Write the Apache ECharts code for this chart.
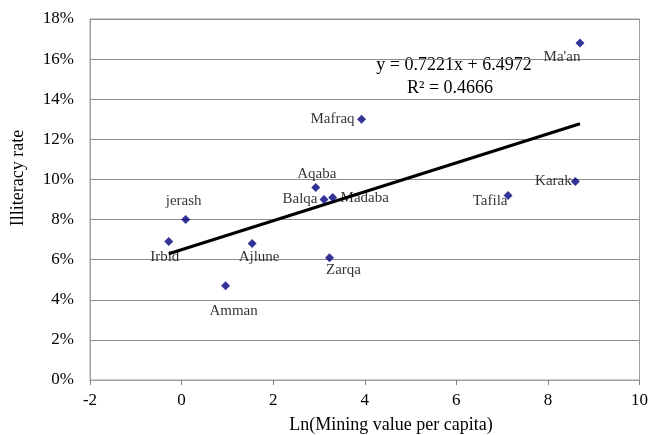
<!DOCTYPE html>
<html>
<head>
<meta charset="utf-8">
<script src="https://cdn.jsdelivr.net/npm/echarts@6/dist/echarts.min.js"></script>
<style>
  html, body { margin: 0; padding: 0; background: #fff; }
  #chart { width: 651px; height: 435px; }
</style>
</head>
<body>
<div id="chart"></div>
<script>
// Governorates with log mining value per capita and illiteracy rate (%)
const governorates = ["Ma'an", "Karak", "Tafila", "jerash", "Irbid", "Aqaba", "Balqa", "Madaba", "Ajlune", "Zarqa", "Amman", "Mafraq"];
const lnMiningValue = [8.70, 8.60, 7.13, 0.09, -0.28, 2.93, 3.11, 3.30, 1.54, 3.23, 0.96, 3.93];
const illiteracyRate = [16.8, 9.9, 9.2, 8.0, 6.9, 9.6, 9.0, 9.1, 6.8, 6.1, 4.7, 13.0];

// Linear trend line fitted to the points
const trendSlope = 0.7221;
const trendIntercept = 6.4972;
const trendR2 = 0.4666;

const xTicks = { min: -2, max: 10, step: 2 };
const yTicks = { min: 0, max: 18, step: 2 };

// Where each point's name sits relative to its marker
const labelOffsets = {
  "Ma'an": [-18, 14], "Karak": [-22, 0], "Tafila": [-18, 6], "jerash": [-2, -18],
  "Irbid": [-4, 15], "Aqaba": [1, -13], "Balqa": [-24, 0], "Madaba": [32, 1],
  "Ajlune": [7, 13], "Zarqa": [14, 12], "Amman": [8, 25], "Mafraq": [-29, 0]
};

const serif = "'Liberation Serif', 'Times New Roman', serif";

const points = governorates.map((name, i) => ({
  name: name,
  value: [lnMiningValue[i], illiteracyRate[i]],
  label: { offset: labelOffsets[name] }
}));

const xFrom = Math.min(...lnMiningValue);
const xTo = Math.max(...lnMiningValue);
const trendLine = [
  [xFrom, trendSlope * xFrom + trendIntercept],
  [xTo, trendSlope * xTo + trendIntercept]
];

const chart = echarts.init(document.getElementById('chart'), null, { renderer: 'canvas' });

chart.setOption({
  animation: false,
  backgroundColor: '#ffffff',
  grid: {
    left: 90, right: 11, top: 19, bottom: 55,
    show: true, borderColor: '#a0a0a0', borderWidth: 1
  },
  xAxis: {
    type: 'value',
    min: xTicks.min, max: xTicks.max, interval: xTicks.step,
    axisLine: { show: true, onZero: false, lineStyle: { color: '#a0a0a0', width: 1 } },
    axisTick: { show: true, inside: false, length: 5, lineStyle: { color: '#808080' } },
    splitLine: { show: false },
    axisLabel: { color: '#000', fontFamily: serif, fontSize: 17, margin: 12 }
  },
  yAxis: {
    type: 'value',
    min: yTicks.min, max: yTicks.max, interval: yTicks.step,
    axisLine: { show: true, onZero: false, lineStyle: { color: '#a0a0a0', width: 1 } },
    axisTick: { show: false },
    splitLine: { show: true, lineStyle: { color: '#8c8c8c', width: 1 } },
    axisLabel: { color: '#000', fontFamily: serif, fontSize: 17, margin: 16, formatter: '{value}%' }
  },
  series: [
    {
      type: 'line',
      data: trendLine,
      showSymbol: false,
      symbol: 'none',
      lineStyle: { color: '#000', width: 3 },
      z: 2
    },
    {
      type: 'scatter',
      data: points,
      symbol: 'diamond',
      symbolSize: [9, 9],
      itemStyle: { color: '#000080' },
      label: {
        show: true,
        position: 'inside',
        align: 'center',
        verticalAlign: 'middle',
        formatter: p => p.name,
        color: '#000',
        fontFamily: serif,
        fontSize: 15
      },
      z: 3
    }
  ],
  graphic: [
    {
      type: 'text', x: 454, y: 65,
      style: {
        text: 'y = ' + trendSlope.toFixed(4) + 'x + ' + trendIntercept.toFixed(4),
        fill: '#000', font: '18px ' + serif, align: 'center', verticalAlign: 'middle'
      }
    },
    {
      type: 'text', x: 450, y: 88,
      style: {
        text: 'R\u00b2 = ' + trendR2.toFixed(4),
        fill: '#000', font: '18px ' + serif, align: 'center', verticalAlign: 'middle'
      }
    },
    {
      type: 'text', x: 18, y: 178, rotation: Math.PI / 2,
      style: {
        text: 'Illiteracy rate', fill: '#000', font: '18px ' + serif,
        align: 'center', verticalAlign: 'middle'
      }
    },
    {
      type: 'text', x: 391, y: 425,
      style: {
        text: 'Ln(Mining value per capita)', fill: '#000', font: '18px ' + serif,
        align: 'center', verticalAlign: 'middle'
      }
    }
  ]
});
</script>
</body>
</html>
